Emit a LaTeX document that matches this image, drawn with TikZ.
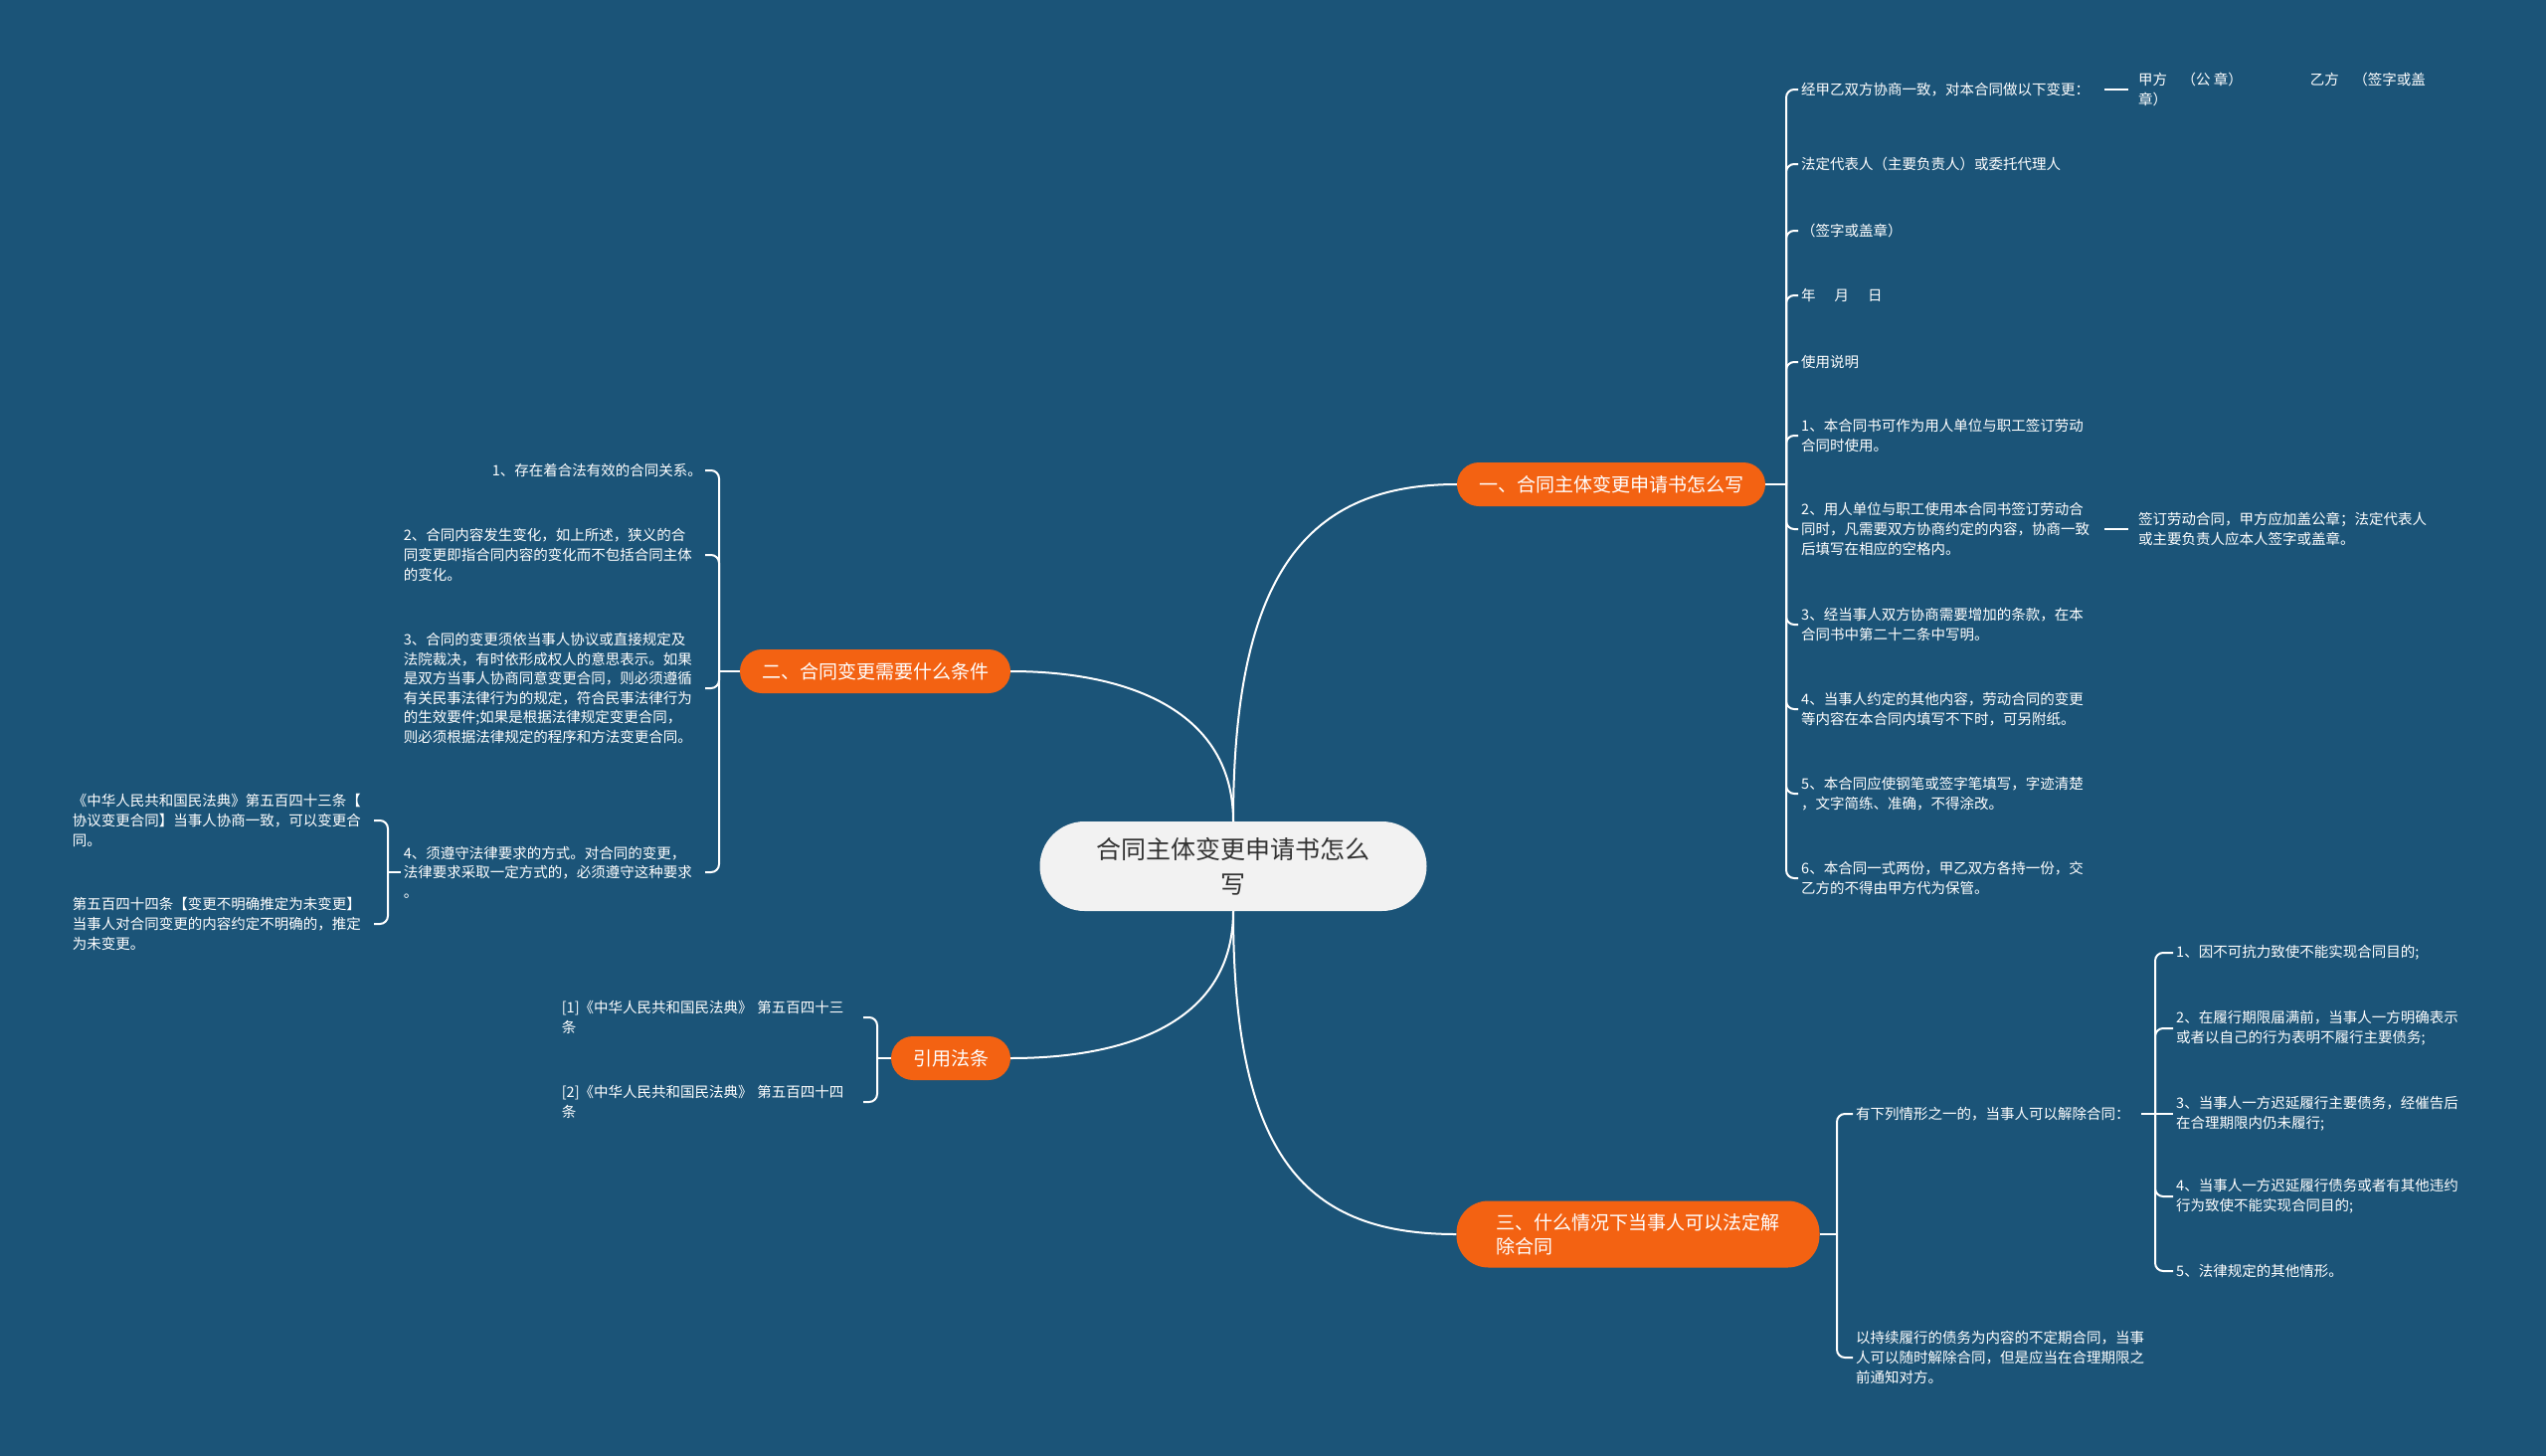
\documentclass[tikz,border=0pt]{standalone}
\usepackage{tikz}
\usepackage{fontspec}
\setmainfont{Noto Sans CJK SC}
\definecolor{bg}{RGB}{27,84,120}
\definecolor{branchfill}{RGB}{243,98,18}
\definecolor{rootfill}{RGB}{242,242,242}
\definecolor{roottext}{RGB}{51,51,51}

\begin{document}
\begin{tikzpicture}[x=1pt,y=-1pt,
  root/.style={fill=rootfill,text=roottext,rounded corners=45pt,minimum width=389pt,minimum height=90pt,align=center,font=\fontsize{25}{35}\selectfont},
  branch/.style={fill=branchfill,text=white,rounded corners=22pt,minimum height=44pt,inner xsep=22pt,font=\fontsize{19}{24.5}\selectfont},
  leaf/.style={text=white,align=left,inner sep=3pt,font=\fontsize{14.5}{19.6}\selectfont},
  leafw/.style={leaf,text width=300pt},
  link/.style={draw=white,line width=2pt},
  hook/.style={link,rounded corners=8pt}]

\fill[bg] (0,0) rectangle (2560,1464);
\useasboundingbox (0,0) rectangle (2560,1464);

\node[root] (R) at (1240,871) {合同主体变更申请书怎么\\写};
\node[branch] (B1) at (1620,487) {一、合同主体变更申请书怎么写};
\node[branch] (B2) at (880,675) {二、合同变更需要什么条件};
\node[branch] (B4) at (956,1064) {引用法条};
\node[branch,align=left,inner xsep=40pt,rounded corners=32pt,minimum height=67pt] (B3) at (1647,1241) {三、什么情况下当事人可以法定解\\除合同};

\draw[link] (R.north) .. controls +(0,-250) and +(-150,0) .. (B1.west);
\draw[link] (R.north) .. controls +(0,-110) and +(120,0) .. (B2.east);
\draw[link] (R.south) .. controls +(0,110) and +(120,0) .. (B4.east);
\draw[link] (R.south) .. controls +(0,250) and +(-150,0) .. (B3.west);

\node[leaf,anchor=west] (A1) at (1808,90) {经甲乙双方协商一致，对本合同做以下变更：};
\node[leaf,anchor=west] (A2) at (1808,165) {法定代表人（主要负责人）或委托代理人};
\node[leaf,anchor=west] (A3) at (1808,232) {（签字或盖章）};
\node[leaf,anchor=west] (A4) at (1808,297) {年\hspace{19pt}月\hspace{19pt}日};
\node[leaf,anchor=west] (A5) at (1808,364) {使用说明};
\node[leaf,anchor=west] (A6) at (1808,438) {1、本合同书可作为用人单位与职工签订劳动\\合同时使用。};
\node[leaf,anchor=west] (A7) at (1808,532) {2、用人单位与职工使用本合同书签订劳动合\\同时，凡需要双方协商约定的内容，协商一致\\后填写在相应的空格内。};
\node[leaf,anchor=west] (A8) at (1808,628) {3、经当事人双方协商需要增加的条款，在本\\合同书中第二十二条中写明。};
\node[leaf,anchor=west] (A9) at (1808,713) {4、当事人约定的其他内容，劳动合同的变更\\等内容在本合同内填写不下时，可另附纸。};
\node[leaf,anchor=west] (A10) at (1808,798) {5、本合同应使钢笔或签字笔填写，字迹清楚\\，文字简练、准确，不得涂改。};
\node[leaf,anchor=west] (A11) at (1808,883) {6、本合同一式两份，甲乙双方各持一份，交\\乙方的不得由甲方代为保管。};
\coordinate (J1) at (1796,487);
\draw[link] (B1.east) -- (J1);
\foreach \i in {1,...,11} \draw[hook] (J1) |- (A\i.west);

\node[leaf,anchor=west] (S1) at (2147,90) {甲方　（公 章）\hspace{68pt}乙方　（签字或盖\\章）};
\node[leaf,anchor=west] (S2) at (2147,532) {签订劳动合同，甲方应加盖公章；法定代表人\\或主要负责人应本人签字或盖章。};
\draw[link,shorten <=12pt,shorten >=7pt] (A1.east) -- (S1.west);
\draw[link,shorten <=12pt,shorten >=7pt] (A7.east) -- (S2.west);

\node[leaf,anchor=east] (C1) at (709,473) {1、存在着合法有效的合同关系。};
\node[leafw,anchor=east] (C2) at (709,558) {2、合同内容发生变化，如上所述，狭义的合\\同变更即指合同内容的变化而不包括合同主体\\的变化。};
\node[leafw,anchor=east] (C3) at (709,692) {3、合同的变更须依当事人协议或直接规定及\\法院裁决，有时依形成权人的意思表示。如果\\是双方当事人协商同意变更合同，则必须遵循\\有关民事法律行为的规定，符合民事法律行为\\的生效要件;如果是根据法律规定变更合同，\\则必须根据法律规定的程序和方法变更合同。};
\node[leafw,anchor=east] (C4) at (709,877) {4、须遵守法律要求的方式。对合同的变更，\\法律要求采取一定方式的，必须遵守这种要求\\。};
\coordinate (J2) at (723,675);
\draw[link] (B2.west) -- (J2);
\foreach \i in {1,...,4} \draw[hook] (J2) |- (C\i.east);

\node[leafw,anchor=east] (D1) at (376,825) {《中华人民共和国民法典》第五百四十三条【\\协议变更合同】当事人协商一致，可以变更合\\同。};
\node[leafw,anchor=east] (D2) at (376,929) {第五百四十四条【变更不明确推定为未变更】\\当事人对合同变更的内容约定不明确的，推定\\为未变更。};
\coordinate (J3) at (390,877);
\draw[link] (C4.west) -- (J3);
\foreach \i in {1,2} \draw[hook] (J3) |- (D\i.east);

\node[leafw,anchor=east] (G1) at (868,1023) {[1]《中华人民共和国民法典》 第五百四十三\\条};
\node[leafw,anchor=east] (G2) at (868,1108) {[2]《中华人民共和国民法典》 第五百四十四\\条};
\coordinate (J4) at (882,1064);
\draw[link] (B4.west) -- (J4);
\foreach \i in {1,2} \draw[hook] (J4) |- (G\i.east);

\node[leaf,anchor=west] (E1) at (1863,1120) {有下列情形之一的，当事人可以解除合同：};
\node[leaf,anchor=west] (E2) at (1863,1365) {以持续履行的债务为内容的不定期合同，当事\\人可以随时解除合同，但是应当在合理期限之\\前通知对方。};
\coordinate (J6) at (1847,1241);
\draw[link] (B3.east) -- (J6);
\foreach \i in {1,2} \draw[hook] (J6) |- (E\i.west);

\node[leaf,anchor=west] (F1) at (2185,958) {1、因不可抗力致使不能实现合同目的;};
\node[leaf,anchor=west] (F2) at (2185,1034) {2、在履行期限届满前，当事人一方明确表示\\或者以自己的行为表明不履行主要债务;};
\node[leaf,anchor=west] (F3) at (2185,1120) {3、当事人一方迟延履行主要债务，经催告后\\在合理期限内仍未履行;};
\node[leaf,anchor=west] (F4) at (2185,1203) {4、当事人一方迟延履行债务或者有其他违约\\行为致使不能实现合同目的;};
\node[leaf,anchor=west] (F5) at (2185,1278) {5、法律规定的其他情形。};
\coordinate (J5) at (2167,1120);
\draw[link,shorten <=8pt] (E1.east) -- (F3.west);
\foreach \i in {1,2,4,5} \draw[hook] (J5) |- (F\i.west);
\end{tikzpicture}
\end{document}
